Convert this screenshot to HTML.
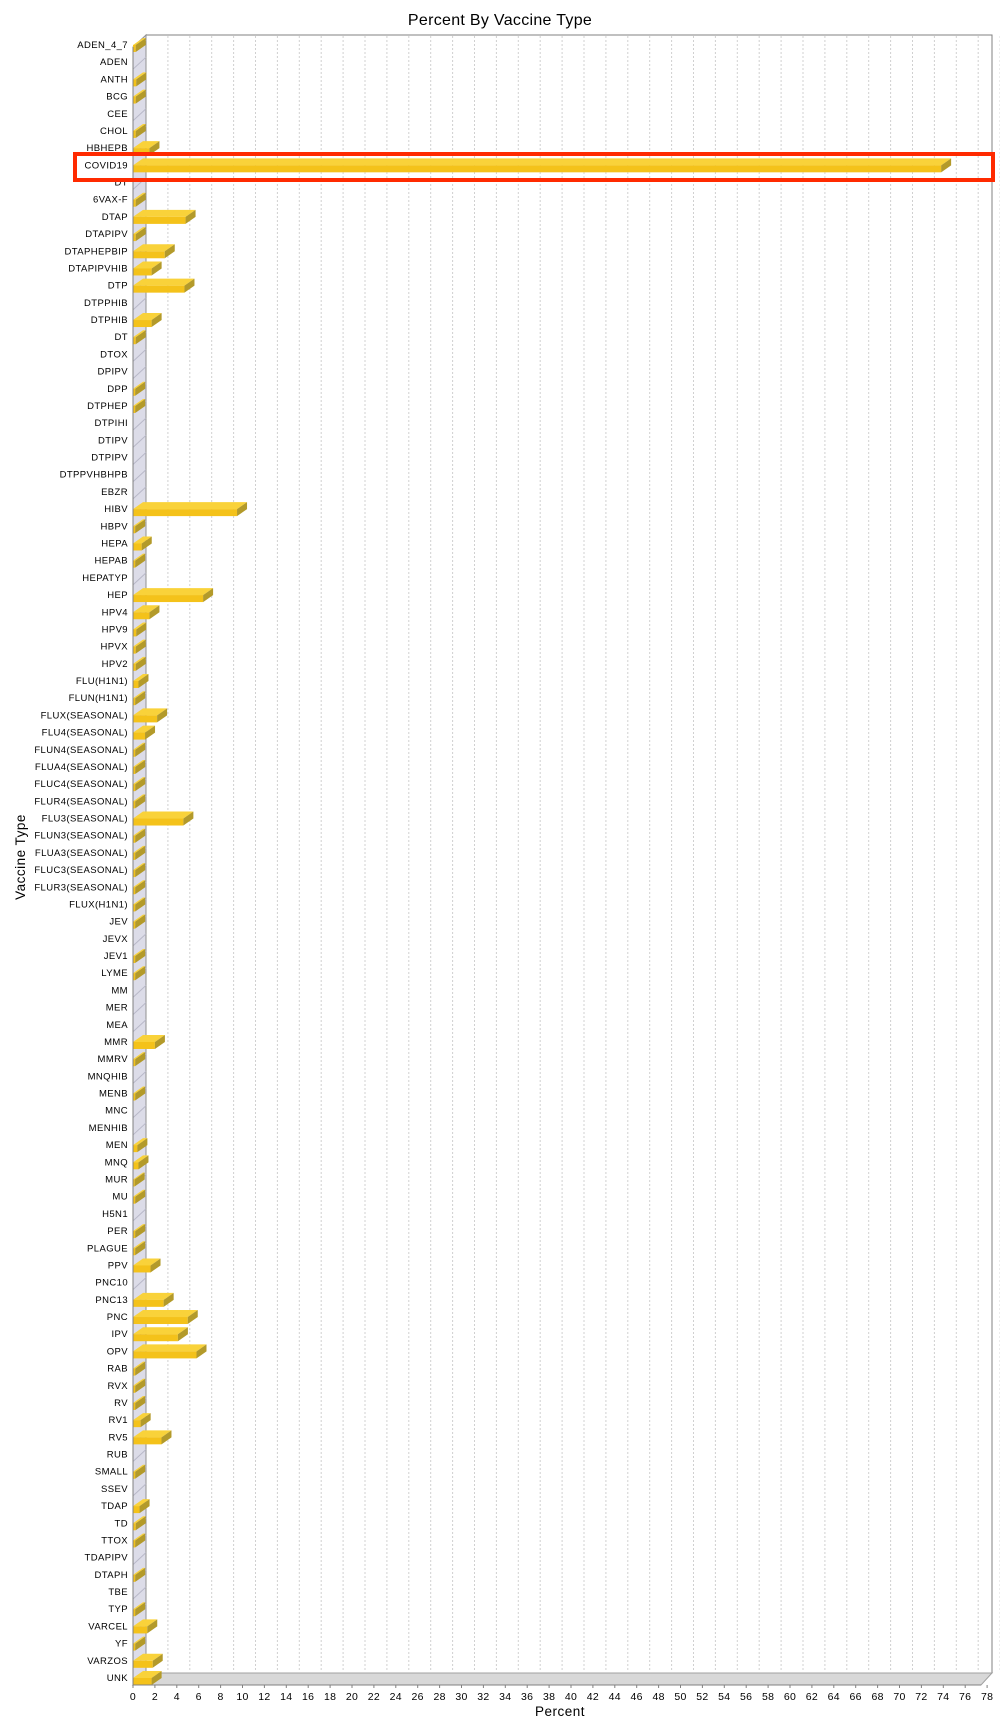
<!DOCTYPE html>
<html><head><meta charset="utf-8"><style>
html,body{margin:0;padding:0;background:#fff;}
svg{display:block;font-family:"Liberation Sans",sans-serif;}
</style></head><body>
<svg id="c" width="1000" height="1728" viewBox="0 0 1000 1728" xmlns="http://www.w3.org/2000/svg">
<text x="500" y="25" font-size="16" text-anchor="middle" fill="#000" letter-spacing="0.3">Percent By Vaccine Type</text>
<text x="560" y="1716" font-size="13.5" text-anchor="middle" fill="#000" letter-spacing="0.5">Percent</text>
<text transform="translate(25,857) rotate(-90)" font-size="13.5" text-anchor="middle" fill="#000" letter-spacing="0.5">Vaccine Type</text>
<g id="g"></g>
</svg>
<script>
var cats=[["ADEN_4_7",.25],["ADEN",0],["ANTH",.3],["BCG",.25],["CEE",0],["CHOL",.25],["HBHEPB",1.5],["COVID19",73.8],["DT",0],["6VAX-F",.25],["DTAP",4.8],["DTAPIPV",.25],["DTAPHEPBIP",2.9],["DTAPIPVHIB",1.7],["DTP",4.7],["DTPPHIB",0],["DTPHIB",1.7],["DT",.25],["DTOX",0],["DPIPV",0],["DPP",.2],["DTPHEP",.2],["DTPIHI",0],["DTIPV",0],["DTPIPV",0],["DTPPVHBHPB",0],["EBZR",0],["HIBV",9.5],["HBPV",.2],["HEPA",.8],["HEPAB",.2],["HEPATYP",0],["HEP",6.4],["HPV4",1.5],["HPV9",.3],["HPVX",.25],["HPV2",.25],["FLU(H1N1)",.5],["FLUN(H1N1)",.2],["FLUX(SEASONAL)",2.2],["FLU4(SEASONAL)",1.1],["FLUN4(SEASONAL)",.2],["FLUA4(SEASONAL)",.2],["FLUC4(SEASONAL)",.2],["FLUR4(SEASONAL)",.2],["FLU3(SEASONAL)",4.6],["FLUN3(SEASONAL)",.2],["FLUA3(SEASONAL)",.2],["FLUC3(SEASONAL)",.2],["FLUR3(SEASONAL)",.2],["FLUX(H1N1)",.2],["JEV",.2],["JEVX",0],["JEV1",.2],["LYME",.2],["MM",0],["MER",0],["MEA",0],["MMR",2.0],["MMRV",.2],["MNQHIB",0],["MENB",.2],["MNC",0],["MENHIB",0],["MEN",.4],["MNQ",.5],["MUR",.15],["MU",.2],["H5N1",0],["PER",.2],["PLAGUE",.2],["PPV",1.6],["PNC10",0],["PNC13",2.8],["PNC",5.0],["IPV",4.1],["OPV",5.8],["RAB",.2],["RVX",.2],["RV",.2],["RV1",.7],["RV5",2.6],["RUB",0],["SMALL",.2],["SSEV",0],["TDAP",.6],["TD",.25],["TTOX",.2],["TDAPIPV",0],["DTAPH",.2],["TBE",0],["TYP",.2],["VARCEL",1.3],["YF",.2],["VARZOS",1.8],["UNK",1.7]];
var x0=133,k=10.95;
var s='';
s+='<rect x="146" y="35" width="846" height="1638" fill="#fff" stroke="#808080" stroke-width="1"/>';
for(var v=2;v<=78;v+=2){var gx=146+v*k;s+='<line x1="'+gx+'" y1="36" x2="'+gx+'" y2="1672" stroke="#d0d0d0" stroke-width="1" stroke-dasharray="2,2"/>';}
s+='<polygon points="133,1685 146,1673 992,1673 981,1685" fill="#d8d8d8" stroke="#a0a0a0" stroke-width="1"/>';
s+='<polygon points="133,47 146,35 146,1673 133,1685" fill="#dcdce8" stroke="#909090" stroke-width="1"/>';
var step=(1677-44)/95;
for(var i=0;i<cats.length;i++){
 var c=44+i*step, v=cats[i][1];
 s+='<text x="128" y="'+(c+4)+'" font-size="9.5" letter-spacing="0.4" text-anchor="end" fill="#000">'+cats[i][0]+'</text>';
 s+='<line x1="133" y1="'+(c+8)+'" x2="146" y2="'+(c-4)+'" stroke="#b8b8c8" stroke-width="1"/>';
 if(v>0){
  var xe=x0+v*k, yt=c+1, yb=c+8, dx=10, dy=-7;
  s+='<polygon points="'+x0+','+yt+' '+(x0+dx)+','+(yt+dy)+' '+(xe+dx)+','+(yt+dy)+' '+xe+','+yt+'" fill="#f9d23a"/>';
  s+='<rect x="'+x0+'" y="'+yt+'" width="'+(xe-x0)+'" height="'+(yb-yt)+'" fill="#f4c21a"/>';
  s+='<polygon points="'+xe+','+yt+' '+(xe+dx)+','+(yt+dy)+' '+(xe+dx)+','+(yb+dy)+' '+xe+','+yb+'" fill="#b39a2a"/>';
 }
}
s+='<line x1="133" y1="1685" x2="981" y2="1685" stroke="#808080"/>';
for(var v=0;v<=78;v+=2){var tx=x0+v*k;s+='<line x1="'+tx+'" y1="1685" x2="'+tx+'" y2="1688" stroke="#808080"/><text x="'+tx+'" y="1700" font-size="10.5" letter-spacing="0.3" text-anchor="middle" fill="#000">'+v+'</text>';}
s+='<line x1="133" y1="47" x2="133" y2="1685" stroke="#808080"/>';
s+='<rect x="75" y="154" width="918" height="26" fill="none" stroke="#ff2a00" stroke-width="4"/>';
document.getElementById('g').innerHTML=s;
</script>
</body></html>
